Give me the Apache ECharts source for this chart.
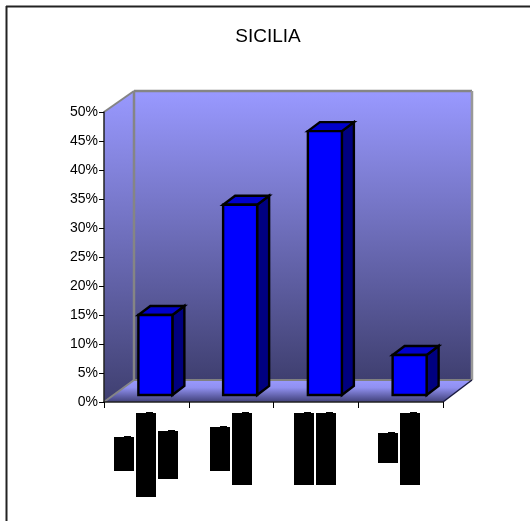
<!DOCTYPE html>
<html>
<head>
<meta charset="utf-8">
<style>html,body{margin:0;padding:0;background:#fff}#c{width:530px;height:521px}</style>
<script src="https://cdn.jsdelivr.net/npm/echarts@6/dist/echarts.min.js"></script>
</head>
<body>
<div id="c"></div>
<script>
const chartTitle = 'SICILIA';
const categories = ['A', 'B', 'C', 'D'];
const values = [13.8, 32.8, 45.5, 6.9];
const yTicks = [0, 5, 10, 15, 20, 25, 30, 35, 40, 45, 50];

const FONT = '"Liberation Sans", Arial, sans-serif';
const wallFill = () => new echarts.graphic.LinearGradient(0, 0, 0, 1, [
  {offset: 0, color: '#9999ff'}, {offset: 1, color: '#3f3f70'}
]);
const floorFill = () => new echarts.graphic.LinearGradient(0, 0, 0, 1, [
  {offset: 0, color: '#9999ff'}, {offset: 0.35, color: '#9090f0'}, {offset: 1, color: '#404078'}
]);
const poly = (points, fill, z) => ({type: 'polygon', z, shape: {points}, style: {fill}});
const edge = (x1, y1, x2, y2, stroke, lineWidth, z) => ({
  type: 'line', z, shape: {x1, y1, x2, y2}, style: {stroke, lineWidth}
});
// The category labels are blacked out in the reference: [left, top, bottom]
const labelBlocks = [
  [114, 437, 471], [136, 413, 497], [158, 431, 479],
  [210, 427, 471], [232, 413, 485],
  [294, 413, 485], [316, 413, 485],
  [378, 433, 463], [400, 413, 485]
];
const blockRects = [];
labelBlocks.forEach(b => {
  blockRects.push({type: 'rect', z: 5, shape: {x: b[0], y: b[1], width: 20, height: b[2] - b[1]}, style: {fill: '#000'}});
  blockRects.push({type: 'rect', z: 5, shape: {x: b[0] + 10, y: b[1] - 1, width: 7, height: 1}, style: {fill: '#000'}});
});

const chart = echarts.init(document.getElementById('c'), null, {renderer: 'canvas'});
chart.setOption({
  animation: false,
  backgroundColor: '#fff',
  title: {
    text: chartTitle, left: 263, top: 22, textAlign: 'center',
    textStyle: {fontFamily: FONT, fontSize: 19, fontWeight: 'normal', color: '#000'}
  },
  grid: {left: 104, top: 112, width: 339, height: 290},
  xAxis: {
    type: 'category', data: categories, boundaryGap: true,
    axisLine: {show: true, lineStyle: {color: '#222', width: 1.5}},
    axisTick: {show: true, length: 6, alignWithLabel: false, lineStyle: {color: '#000', width: 1}},
    axisLabel: {show: false}, splitLine: {show: false}
  },
  yAxis: {
    type: 'value', min: yTicks[0], max: yTicks[yTicks.length - 1], interval: 5,
    axisLine: {show: true, lineStyle: {color: '#222', width: 1.5}},
    axisTick: {show: true, length: 5, lineStyle: {color: '#000', width: 1}},
    axisLabel: {
      margin: 6, formatter: '{value}%', fontFamily: FONT, fontSize: 14, color: '#000',
      padding: [2, 0, 0, 0]
    },
    splitLine: {show: false}
  },
  graphic: [
    poly([[134, 91], [472, 91], [472, 380], [134, 380]], wallFill(), -3),
    poly([[104, 112], [134, 91], [134, 380], [104, 402]], wallFill(), -3),
    poly([[134, 380], [472, 380], [443, 402], [104, 402]], floorFill(), -2),
    edge(134, 91, 472, 91, '#858585', 2.5, -1),
    edge(134, 91, 134, 380, '#858585', 2.5, -1),
    edge(472, 91, 472, 380, '#989898', 2.5, -1),
    edge(134, 380, 472, 380, '#808080', 2, -1),
    edge(104, 112, 134, 91, '#858585', 2, -1),
    edge(104, 402, 134, 380, '#858585', 2, -1),
    edge(443, 402, 472, 380, '#1a1a40', 1.5, -1),
    edge(6, 6.5, 530, 6.5, '#222', 2, 1),
    edge(6.5, 6, 6.5, 521, '#222', 2, 1)
  ].concat(blockRects),
  series: [{
    type: 'custom',
    data: values,
    z: 4,
    clip: false,
    encode: {x: 0, y: 1},
    renderItem(params, api) {
      const i = params.dataIndex;
      const base = api.coord([i, 0]);
      const top = api.coord([i, api.value(1)]);
      const halfW = 17, dx = 12, dy = 9, shiftX = 9, shiftY = 7;
      const l = base[0] + shiftX - halfW, r = l + halfW * 2;
      const b = base[1] - shiftY, t = top[1] - shiftY;
      const stroke = {stroke: '#000', lineWidth: 2.4, lineJoin: 'miter'};
      return {
        type: 'group',
        children: [
          {type: 'polygon', shape: {points: [[r, t], [r + dx, t - dy], [r + dx, b - dy], [r, b]]},
            style: Object.assign({fill: '#000080'}, stroke)},
          {type: 'polygon', shape: {points: [[l, t], [l + dx, t - dy], [r + dx, t - dy], [r, t]]},
            style: Object.assign({fill: '#0000cc'}, stroke)},
          {type: 'rect', shape: {x: l, y: t, width: r - l, height: b - t},
            style: Object.assign({fill: '#0000ff'}, stroke)}
        ]
      };
    }
  }]
});
</script>
</body>
</html>
